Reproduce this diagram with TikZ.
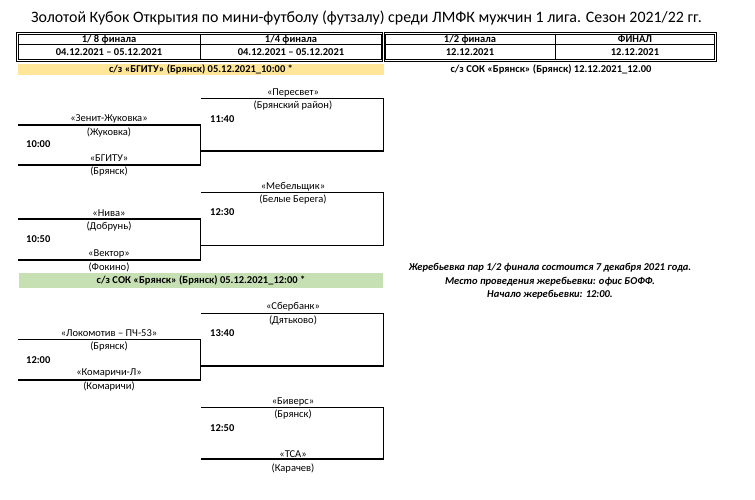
\documentclass[tikz,border=0pt]{standalone}
\usepackage{fontspec}
\setmainfont{Carlito}
\definecolor{bandyellow}{HTML}{FFE699}
\definecolor{bandgreen}{HTML}{C6E0B4}
\begin{document}
\begin{tikzpicture}[x=1pt,y=-1pt,
  t/.style={font=\fontsize{10.5}{12}\selectfont, inner sep=0pt, text height=9.5pt, text depth=2.5pt},
  tb/.style={t, font=\fontsize{10.5}{12}\selectfont\bfseries},
  tbi/.style={t, font=\fontsize{10.5}{12}\selectfont\bfseries\itshape},
  ln/.style={line width=1.1pt},
  tl/.style={line width=0.7pt}]
\useasboundingbox (0,0) rectangle (755,500);
% title
\node[inner sep=0pt, font=\fontsize{15.9}{18}\selectfont] (title) at (366.5,18) {Золотой Кубок Открытия по мини-футболу (футзалу) среди ЛМФК мужчин 1 лига. Сезон 2021/22 гг.};
% tables
\draw[tl] (16,32) rectangle (382.7,61);
\draw[tl] (18,34) rectangle (381.2,59);
\draw[tl] (384,32) rectangle (716.3,61);
\draw[tl] (385.5,34) rectangle (714.5,59);
\draw[tl] (18,44.7) -- (381.2,44.7);
\draw[tl] (385.5,44.7) -- (714.5,44.7);
\draw[tl] (200.7,34) -- (200.7,59);
\draw[tl] (555,34) -- (555,59);
\node[tb] (h1) at (109,39.3) {1/ 8 финала};
\node[tb] (d1) at (109,52) {04.12.2021 – 05.12.2021};
\node[tb] (h2) at (291,39.3) {1/4 финала};
\node[tb] (d2) at (291,52) {04.12.2021 – 05.12.2021};
\node[tb] (h3) at (470,39.3) {1/2 финала};
\node[tb] (d3) at (470,52) {12.12.2021};
\node[tb] (h4) at (635,39.3) {ФИНАЛ};
\node[tb] (d4) at (635,52) {12.12.2021};
% bands
\fill[bandyellow] (18,64) rectangle (384,75);
\node[tb] (b1) at (201,69) {с/з «БГИТУ» (Брянск) 05.12.2021\_10:00 *};
\node[tb] (b2) at (551,69) {с/з СОК «Брянск» (Брянск) 12.12.2021\_12.00};
\fill[bandgreen] (19,273.3) rectangle (383,288.3);
\node[tb] (b3) at (201,280.3) {с/з СОК «Брянск» (Брянск) 05.12.2021\_12:00 *};
% match A
\draw[ln] (18,125) -- (200.5,125) -- (200.5,165) -- (18,165);
\node[t] (a1) at (109,118.5) {«Зенит-Жуковка»};
\node[t] (a1c) at (109,132) {(Жуковка)};
\node[tb,anchor=west] (at) at (26,144.3) {10:00};
\node[t] (a2) at (109,157.5) {«БГИТУ»};
\node[t] (a2c) at (109,171) {(Брянск)};
% match B
\draw[ln] (201,98.3) -- (383.3,98.3) -- (383.3,151) -- (201,151);
\node[t] (b1n) at (293,92.3) {«Пересвет»};
\node[t] (b1c) at (293,105.3) {(Брянский район)};
\node[tb,anchor=west] (bt) at (210,118.7) {11:40};
% match C
\draw[ln] (201,192.7) -- (383.3,192.7) -- (383.3,245.7) -- (201,245.7);
\node[t] (c1n) at (293,186) {«Мебельщик»};
\node[t] (c1c) at (293,199) {(Белые Берега)};
\node[tb,anchor=west] (ct) at (210,212.3) {12:30};
% match D
\draw[ln] (18,219) -- (200.5,219) -- (200.5,260) -- (18,260);
\node[t] (d1n) at (109,212.5) {«Нива»};
\node[t] (d1c) at (109,225.8) {(Добрунь)};
\node[tb,anchor=west] (dt) at (26,239.3) {10:50};
\node[t] (d2n) at (109,252.7) {«Вектор»};
\node[t] (d2c) at (109,267.3) {(Фокино)};
% match E
\draw[ln] (201,313.3) -- (383.3,313.3) -- (383.3,366) -- (201,366);
\node[t] (e1n) at (293,305.7) {«Сбербанк»};
\node[t] (e1c) at (293,320) {(Дятьково)};
\node[tb,anchor=west] (et) at (210,332.7) {13:40};
% match F
\draw[ln] (18,339.3) -- (200.5,339.3) -- (200.5,380) -- (18,380);
\node[t] (f1n) at (109,332.7) {«Локомотив – ПЧ-53»};
\node[t] (f1c) at (109,345.7) {(Брянск)};
\node[tb,anchor=west] (ft) at (26,360) {12:00};
\node[t] (f2n) at (109,372.3) {«Комаричи-Л»};
\node[t] (f2c) at (109,385.7) {(Комаричи)};
% match G
\draw[ln] (201,407.7) -- (383.3,407.7) -- (383.3,459) -- (201,459);
\node[t] (g1n) at (293,400.7) {«Биверс»};
\node[t] (g1c) at (293,414.3) {(Брянск)};
\node[tb,anchor=west] (gt) at (210,427.7) {12:50};
\node[t] (g2n) at (293,454.3) {«ТСА»};
\node[t] (g2c) at (293,468.3) {(Карачев)};
% notes
\node[tbi] (n1) at (550,267) {Жеребьевка пар 1/2 финала состоится 7 декабря 2021 года.};
\node[tbi] (n2) at (550,280.7) {Место проведения жеребьевки: офис БОФФ.};
\node[tbi] (n3) at (550,294) {Начало жеребьевки: 12:00.};
\end{tikzpicture}
\end{document}
